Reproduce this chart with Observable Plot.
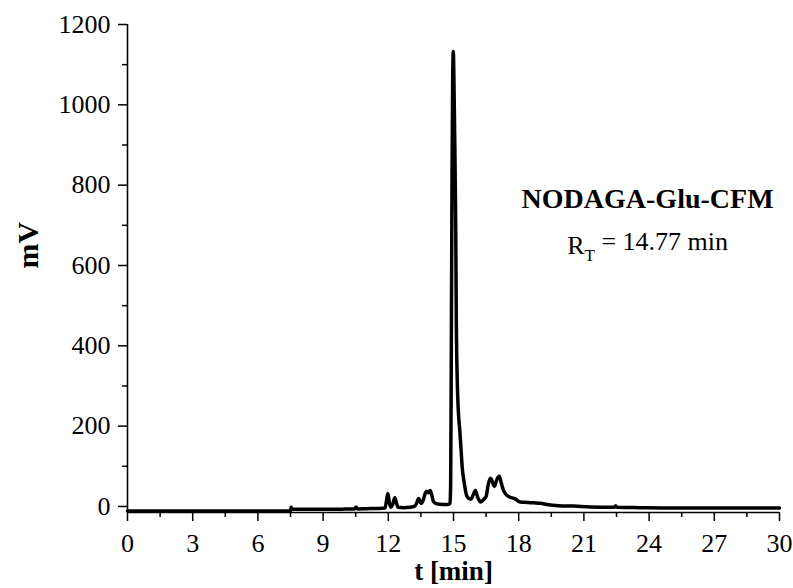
<!DOCTYPE html>
<html>
<head>
<meta charset="utf-8">
<script src="https://cdn.jsdelivr.net/npm/d3@7"></script>
<script src="https://cdn.jsdelivr.net/npm/@observablehq/plot@0.6"></script>
<style>
  html, body { margin: 0; padding: 0; background: #ffffff; }
  #chart svg { display: block; }
</style>
</head>
<body>
<div id="chart"></div>
<script>
// Chromatogram trace (time in min, signal in mV)
const timeMin = [
  0, 1, 2, 3, 4, 5, 6, 7, 7.5, 7.53, 7.56, 8, 9, 10, 10.45, 10.52, 10.58, 11, 11.5,
  11.85, 11.92, 11.98, 12.05, 12.12, 12.2, 12.3, 12.38, 12.45, 12.7, 13.0, 13.2, 13.3,
  13.4, 13.5, 13.6, 13.7, 13.76, 13.84, 13.93, 14.0, 14.08, 14.2, 14.5, 14.75, 14.84,
  14.87, 14.9, 14.93, 14.96, 14.99, 15.02, 15.06, 15.1, 15.13, 15.17, 15.22, 15.29,
  15.35, 15.4, 15.5, 15.6, 15.7, 15.8, 15.9, 16.01, 16.1, 16.25, 16.4, 16.5, 16.6,
  16.7, 16.8, 16.88, 16.98, 17.1, 17.2, 17.3, 17.53, 17.84, 18.07, 18.4, 18.68, 19.0,
  19.3, 19.83, 20.54, 21.3, 22.4, 22.46, 22.52, 23.6, 25.1, 27, 30
];
const signalMV = [
  -11, -11, -11.5, -11, -11, -11.5, -11, -11, -11, -2, -7, -7, -7, -6.5, -6, -1, -6, -5.5, -5,
  -4, 15, 32, 10, -2, 5, 22, 8, -2, -3, -2, 0, 8,
  20, 8, 15, 33, 38, 34, 40, 28, 12, 7, 5, 5, 8,
  60, 400, 800, 1050, 1133, 1060, 900, 712, 460, 320, 240, 189,
  140, 98, 57, 28, 20, 18, 28, 40, 25, 11, 18, 25, 55,
  70, 60, 50, 65, 75, 58, 40, 25, 19, 11, 10, 9, 8,
  5, 2, 1, -1, -2, 2, -2, -3, -4, -4, -4
];

const xDomain = [0, 30];
const yDomain = [-15, 1200];
const xMajorTicks = [0, 3, 6, 9, 12, 15, 18, 21, 24, 27, 30];
const xMinorTicks = [1.5, 4.5, 7.5, 10.5, 13.5, 16.5, 19.5, 22.5, 25.5, 28.5];
const yMajorTicks = [0, 200, 400, 600, 800, 1000, 1200];
const yMinorTicks = [100, 300, 500, 700, 900, 1100];

const xLabel = "t [min]";
const yLabel = "mV";
const compoundName = "NODAGA-Glu-CFM";
const retentionText = "R_T = 14.77 min";
const annotationAt = {t: 23.93, nameMV: 765, rtMV: 650};

const trace = timeMin.map((t, i) => ({t, v: signalMV[i]}));

const font = "'Liberation Serif', 'Times New Roman', serif";

const chart = Plot.plot({
  width: 793,
  height: 588,
  marginLeft: 127,
  marginRight: 14,
  marginTop: 24,
  marginBottom: 76,
  style: {fontFamily: font, background: "#ffffff", color: "#000000", overflow: "visible"},
  x: {domain: xDomain},
  y: {domain: yDomain},
  marks: [
    // axis lines
    Plot.ruleX([xDomain[0]], {y1: yDomain[0], y2: yDomain[1], stroke: "#000", strokeWidth: 1.6}),
    Plot.ruleY([yDomain[0]], {x1: xDomain[0], x2: xDomain[1], stroke: "#000", strokeWidth: 1.6}),
    // y axis
    Plot.axisY(yMajorTicks, {tickSize: 9, tickPadding: 8, fontSize: 26, fontFamily: font,
      strokeWidth: 1.5, label: null, tickFormat: d => String(d)}),
    Plot.axisY(yMinorTicks, {tickSize: 5, fill: "none", strokeWidth: 1.5, label: null}),
    // x axis
    Plot.axisX(xMajorTicks, {tickSize: 9, tickPadding: 12, fontSize: 26, fontFamily: font,
      strokeWidth: 1.5, label: null, tickFormat: d => String(d)}),
    Plot.axisX(xMinorTicks, {tickSize: 5, fill: "none", strokeWidth: 1.5, label: null}),
    // trace
    Plot.line(trace, {x: "t", y: "v", stroke: "#000", strokeWidth: 3.5, curve: "monotone-x",
      strokeLinejoin: "round", strokeLinecap: "round"}),
    // axis titles
    Plot.text([yLabel], {frameAnchor: "left", dx: -99, rotate: -90, fontSize: 30,
      fontWeight: "bold", fontFamily: font, fill: "#000"}),
    Plot.text([xLabel], {frameAnchor: "bottom", lineAnchor: "middle", dy: 59, fontSize: 27,
      fontWeight: "bold", fontFamily: font, fill: "#000"}),
    // annotation
    Plot.text([compoundName], {x: () => annotationAt.t, y: () => annotationAt.nameMV,
      fontSize: 28, fontWeight: "bold", fontFamily: font, fill: "#000"}),
    Plot.text([retentionText], {x: () => annotationAt.t, y: () => annotationAt.rtMV,
      fontSize: 26, fontFamily: font, fill: "#000"})
  ]
});

// Render the subscript T of R_T as a real tspan
d3.select(chart).selectAll("text").each(function () {
  if (this.textContent === retentionText) {
    const parts = retentionText.split("_T");
    this.textContent = "";
    const sel = d3.select(this);
    sel.append("tspan").text(parts[0]);
    sel.append("tspan").attr("dy", "0.45em").attr("font-size", "17px").text("T");
    sel.append("tspan").attr("dy", "-0.45em").text(parts[1]);
  }
});

document.getElementById("chart").appendChild(chart);
</script>
</body>
</html>
